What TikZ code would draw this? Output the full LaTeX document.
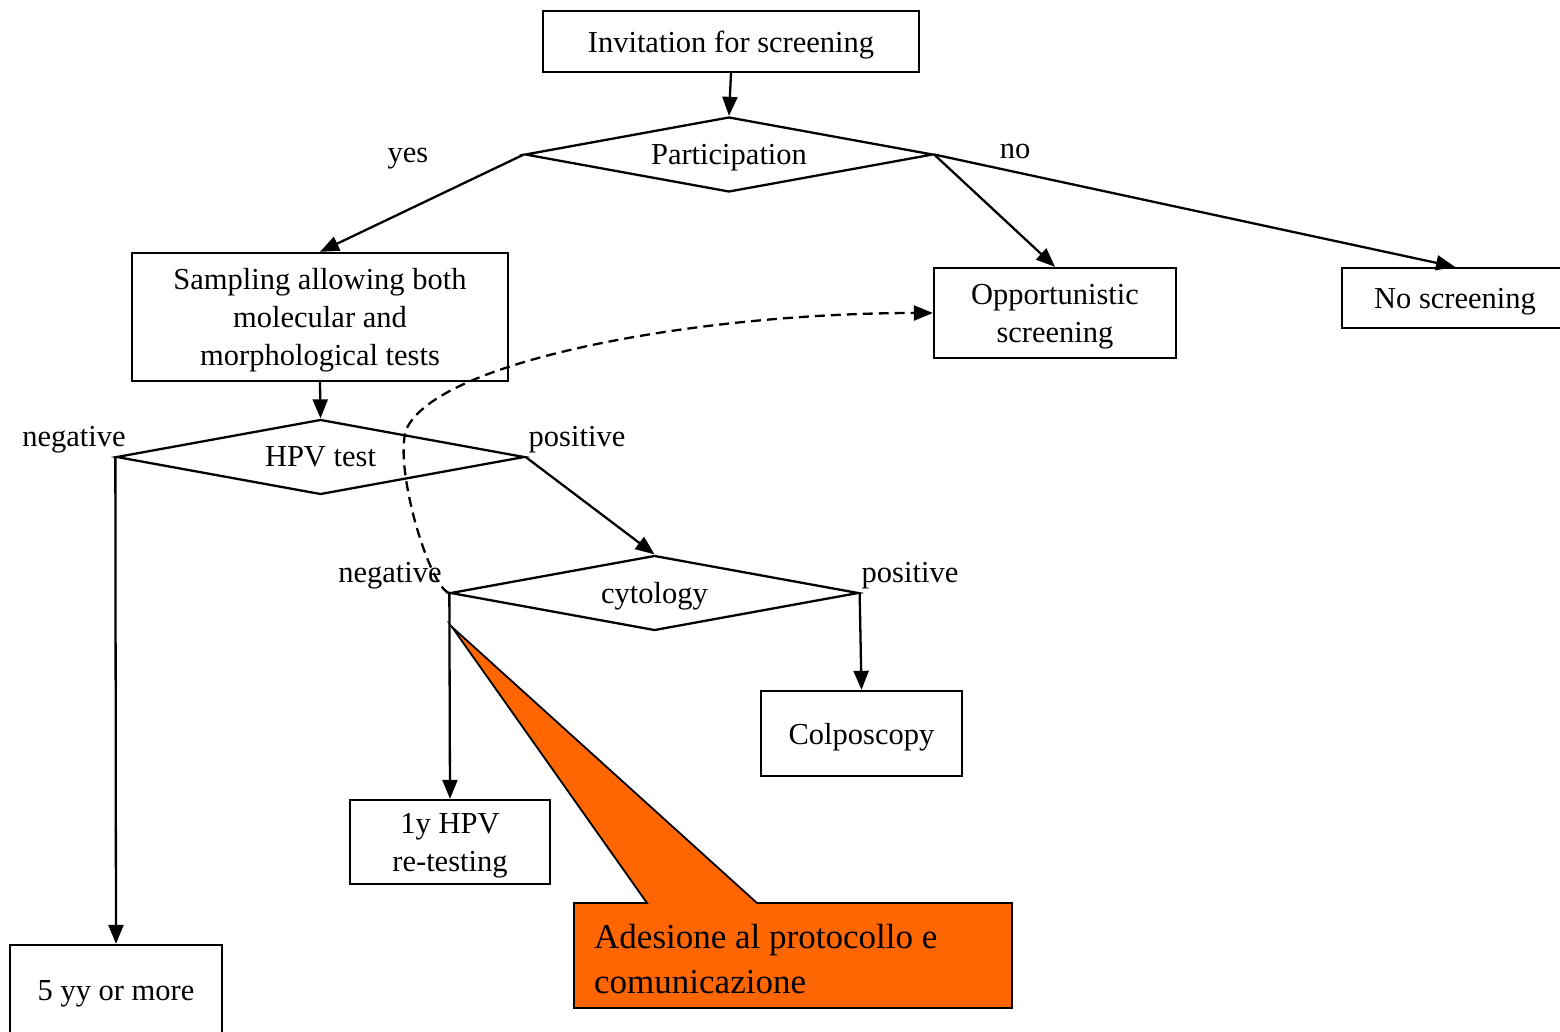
\documentclass[tikz,border=0pt]{standalone}
\usepackage{fontspec}
\setmainfont{Liberation Serif}
\usetikzlibrary{arrows.meta,shapes.geometric}

\definecolor{calloutorange}{HTML}{FF6600}

\tikzset{
  every node/.style={font=\fontsize{30.5}{38}\selectfont},
  box/.style={draw, line width=2.3pt, rectangle, align=center, inner sep=0pt, text depth=0pt},
  decision/.style={draw, line width=2.3pt, diamond, aspect=5.44, inner sep=0pt, text depth=0pt,
    minimum width=408pt, minimum height=75pt},
  flow/.style={line width=2.3pt, -{Triangle[length=19pt,width=15pt]}},
  lbl/.style={anchor=base, inner sep=0pt},
}

\begin{document}
\begin{tikzpicture}[x=1pt, y=-1pt]
\useasboundingbox (0,0) rectangle (1560,1031);
\clip (0,0) rectangle (1560,1031);

% boxes and decisions
\node[box, minimum width=376pt, minimum height=61pt] (inv) at (731,41.5) {Invitation for screening};
\node[decision] (part) at (729,154.5) {Participation};
\node[box, minimum width=376pt, minimum height=128pt] (samp) at (320,317) {Sampling allowing both\\molecular and\\morphological tests};
\node[box, minimum width=242pt, minimum height=90pt] (opp) at (1055,313) {Opportunistic\\screening};
\node[box, minimum width=226pt, minimum height=60pt] (nos) at (1455,298) {No screening};
\node[decision] (hpv) at (320.5,457) {HPV test};
\node[decision] (cyt) at (654.5,593) {cytology};
\node[box, minimum width=201pt, minimum height=85pt] (col) at (861.5,733.5) {Colposcopy};
\node[box, minimum width=200pt, minimum height=84pt] (retest) at (450,842) {1y HPV\\re-testing};
\node[box, minimum width=212pt, minimum height=90pt] (five) at (116,990) {5 yy or more};

% branch labels
\node[lbl] (lyes) at (408,162) {yes};
\node[lbl] (lno) at (1015,158) {no};
\node[lbl] (lneg1) at (74,446) {negative};
\node[lbl] (lpos1) at (577,446) {positive};
\node[lbl] (lneg2) at (390,582) {negative};
\node[lbl] (lpos2) at (910,582) {positive};

% connectors
\draw[flow] (inv.south) -- (part.north);
\draw[flow] (part.west) -- (samp.north);
\draw[flow] (part.east) -- (opp.north);
\draw[flow] (part.east) -- (nos.north);
\draw[flow] (samp.south) -- (hpv.north);
\draw[flow] (hpv.west) -- (five.north);
\draw[flow] (hpv.east) -- (cyt.north);
\draw[flow] (cyt.west) -- (retest.north);
\draw[flow] (cyt.east) -- (col.north);

% dashed return path towards opportunistic screening
\draw[flow, dash pattern=on 10pt off 6pt] (cyt.west)
  .. controls (430,588) and (394,470) .. (406,430)
  .. controls (436,360) and (700,313) .. (opp.west);

% orange callout
\coordinate (tip) at (452,627);
\draw[line width=1.8pt, fill=calloutorange, line join=miter]
  (574,903) -- (647,903) -- (tip) -- (757,903) -- (1012,903)
  -- (1012,1008) -- (574,1008) -- cycle;
\node[anchor=west, align=left, inner sep=0pt, font=\fontsize{35}{45}\selectfont]
  (callout) at (594,959) {Adesione al protocollo e\\comunicazione};
\end{tikzpicture}
\end{document}
